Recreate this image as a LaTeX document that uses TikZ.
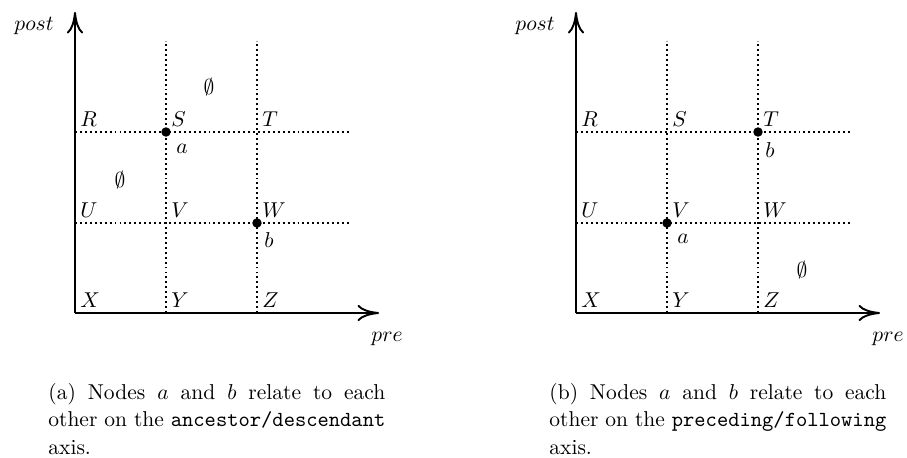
\documentclass[tikz,border=0pt]{standalone}
\usetikzlibrary{arrows.meta}
\tikzset{
  axisline/.style={line width=0.9pt, -{Computer Modern Rightarrow[length=10pt,width=7.5pt]}},
  gridline/.style={line width=0.9pt, dash pattern=on 0.9pt off 1.4pt},
  lbl/.style={anchor=base west, inner sep=0pt},
  nodedot/.style={circle, fill=black, inner sep=0pt, minimum size=4.4pt},
  capbox/.style={anchor=base west, inner sep=0pt, text width=156.7pt, align=justify,
                 font=\fontsize{10pt}{12.8pt}\selectfont},
}
\newcommand\mypanel[1]{%
  \coordinate (#1R) at (75,132);
  \coordinate (#1S) at (166,132);
  \coordinate (#1T) at (257,132);
  \coordinate (#1U) at (75,223);
  \coordinate (#1V) at (166,223);
  \coordinate (#1W) at (257,223);
  \coordinate (#1X) at (75,313);
  \coordinate (#1Y) at (166,313);
  \coordinate (#1Z) at (257,313);
  \coordinate (#1Stop) at (166,41);
  \coordinate (#1Ttop) at (257,41);
  \coordinate (#1Rend) at (350,132);
  \coordinate (#1Uend) at (350,223);
  \coordinate (#1Ytip) at (75,12);
  \coordinate (#1Xtip) at (379,313);
  \draw[gridline] (#1R) -- (#1Rend);
  \draw[gridline] (#1U) -- (#1Uend);
  \draw[gridline] (#1Y) -- (#1Stop);
  \draw[gridline] (#1Z) -- (#1Ttop);
  \draw[axisline] (#1X) -- (#1Ytip);
  \draw[axisline] (#1X) -- (#1Xtip);
  \node[lbl] (#1lR) at ([shift={(5,-6)}]#1R) {$R$};
  \node[lbl] (#1lS) at ([shift={(5,-6)}]#1S) {$S$};
  \node[lbl] (#1lT) at ([shift={(5,-6)}]#1T) {$T$};
  \node[lbl] (#1lU) at ([shift={(5,-6)}]#1U) {$U$};
  \node[lbl] (#1lV) at ([shift={(5,-6)}]#1V) {$V$};
  \node[lbl] (#1lW) at ([shift={(5,-6)}]#1W) {$W$};
  \node[lbl] (#1lX) at ([shift={(5,-6)}]#1X) {$X$};
  \node[lbl] (#1lY) at ([shift={(5,-6)}]#1Y) {$Y$};
  \node[lbl] (#1lZ) at ([shift={(5,-6)}]#1Z) {$Z$};
  \node[anchor=base east, inner sep=0pt] (#1post) at (54,31) {$post$};
  \node[anchor=base west, inner sep=0pt] (#1pre) at (371,341) {$pre$};
}
\begin{document}
\begin{tikzpicture}[x=0.4651pt, y=-0.4651pt]
\useasboundingbox (0,0) rectangle (907,458);
% left panel
\mypanel{l}
\node[nodedot] (ldotA) at (lS) {};
\node[nodedot] (ldotB) at (lW) {};
\node[lbl] (la) at ([shift={(10,21)}]lS) {$a$};
\node[lbl] (lb) at ([shift={(7,24)}]lW) {$b$};
\node (le1) at (209,87) {$\emptyset$};
\node (le2) at (120,180) {$\emptyset$};
\node[capbox] (lcap) at (48,399) {\noindent(a) Nodes $a$ and $b$ relate to each other on the \texttt{ancestor/descendant} axis.};
% right panel
\begin{scope}[shift={(501,0)}]
\mypanel{r}
\node[nodedot] (rdotA) at (rV) {};
\node[nodedot] (rdotB) at (rT) {};
\node[lbl] (ra) at ([shift={(10,20)}]rV) {$a$};
\node[lbl] (rb) at ([shift={(7,25)}]rT) {$b$};
\node (re1) at (301,270) {$\emptyset$};
\node[capbox] (rcap) at (48,399) {\noindent(b) Nodes $a$ and $b$ relate to each other on the \texttt{preceding/following} axis.};
\end{scope}
\end{tikzpicture}
\end{document}
